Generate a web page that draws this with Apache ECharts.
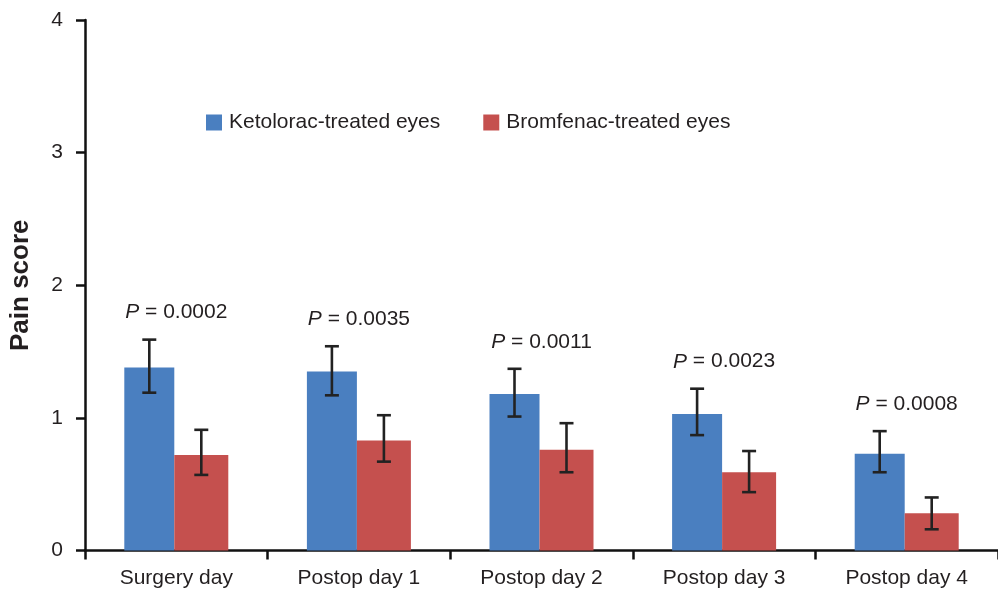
<!DOCTYPE html>
<html>
<head>
<meta charset="utf-8">
<script src="https://cdn.jsdelivr.net/npm/echarts@6/dist/echarts.min.js"></script>
<style>
html,body{margin:0;padding:0;background:#fff;}
#chart{width:998px;height:591px;}
</style>
</head>
<body>
<div id="chart"></div>
<script>
const categories = ['Surgery day', 'Postop day 1', 'Postop day 2', 'Postop day 3', 'Postop day 4'];
const seriesNames = ['Ketolorac-treated eyes', 'Bromfenac-treated eyes'];
const ketoMean = [1.38, 1.35, 1.18, 1.03, 0.73];
const ketoLow  = [1.19, 1.17, 1.01, 0.87, 0.59];
const ketoHigh = [1.59, 1.54, 1.37, 1.22, 0.90];
const bromMean = [0.72, 0.83, 0.76, 0.59, 0.28];
const bromLow  = [0.57, 0.67, 0.59, 0.44, 0.16];
const bromHigh = [0.91, 1.02, 0.96, 0.75, 0.40];
const pValues  = ['0.0002', '0.0035', '0.0011', '0.0023', '0.0008'];
const yTicks   = [0, 1, 2, 3, 4];

const BLUE = '#4a7fc0', RED = '#c5504e', INK = '#231f20';
const FONT = '"Liberation Sans", Arial, sans-serif';
const BW_K = 50, BW_B = 54;
const offK = -(BW_K + BW_B) / 2 + BW_K / 2;
const offB = -(BW_K + BW_B) / 2 + BW_K + BW_B / 2;

function errRender(off) {
  return function (params, api) {
    const top = api.coord([api.value(0), api.value(2)]);
    const bot = api.coord([api.value(0), api.value(1)]);
    const x = top[0] + off;
    const cap = 7;
    const st = { stroke: '#222', lineWidth: 2.6 };
    return {
      type: 'group',
      children: [
        { type: 'line', shape: { x1: x, y1: top[1], x2: x, y2: bot[1] }, style: st },
        { type: 'line', shape: { x1: x - cap, y1: top[1], x2: x + cap, y2: top[1] }, style: st },
        { type: 'line', shape: { x1: x - cap, y1: bot[1], x2: x + cap, y2: bot[1] }, style: st }
      ]
    };
  };
}

const chart = echarts.init(document.getElementById('chart'), null, { renderer: 'canvas' });
chart.setOption({
  animation: false,
  backgroundColor: '#fff',
  textStyle: { fontFamily: FONT },
  grid: { left: 84, right: -7, top: 20, bottom: 40.5, containLabel: false },
  legend: {
    data: seriesNames,
    left: 206, top: 112, padding: 0,
    itemWidth: 16, itemHeight: 16, itemGap: 43,
    icon: 'rect',
    textStyle: { fontSize: 21, color: INK, fontFamily: FONT, padding: [0, 0, 0, 2] }
  },
  xAxis: {
    type: 'category',
    data: categories,
    axisLine: { lineStyle: { color: '#111', width: 2.5 } },
    axisTick: { show: true, length: 9, lineStyle: { color: '#111', width: 2.5 } },
    axisLabel: { fontSize: 21, color: INK, margin: 17, fontFamily: FONT }
  },
  yAxis: {
    type: 'value',
    min: 0, max: 4, interval: 1,
    name: 'Pain score',
    nameLocation: 'middle',
    nameGap: 51,
    nameTextStyle: { fontSize: 26, fontWeight: 'bold', color: INK, fontFamily: FONT },
    axisLine: { show: true, lineStyle: { color: '#111', width: 2.5 } },
    axisTick: { show: true, length: 9, lineStyle: { color: '#111', width: 2.5 } },
    axisLabel: { fontSize: 21, color: INK, margin: 22, fontFamily: FONT,
      formatter: v => (yTicks.indexOf(v) >= 0 ? String(v) : '') },
    splitLine: { show: false }
  },
  series: [
    { name: seriesNames[0], type: 'bar', data: ketoMean, barWidth: BW_K, barGap: '0%',
      itemStyle: { color: BLUE } },
    { name: seriesNames[1], type: 'bar', data: bromMean, barWidth: BW_B, barGap: '0%',
      itemStyle: { color: RED } },
    { type: 'custom', name: 'errK', renderItem: errRender(offK), z: 5,
      data: categories.map((c, i) => [i, ketoLow[i], ketoHigh[i]]) },
    { type: 'custom', name: 'errB', renderItem: errRender(offB), z: 5,
      data: categories.map((c, i) => [i, bromLow[i], bromHigh[i]]) },
    { type: 'custom', name: 'pLabels', z: 6,
      data: categories.map((c, i) => [i, ketoHigh[i], pValues[i]]),
      renderItem: function (params, api) {
        const p = api.coord([api.value(0), api.value(1)]);
        return {
          type: 'text',
          x: p[0], y: p[1] - 27,
          style: {
            text: '{i|P} = ' + pValues[params.dataIndex],
            fontSize: 21, fill: INK, fontFamily: FONT,
            align: 'center', verticalAlign: 'middle',
            rich: { i: { fontStyle: 'italic', fontSize: 21, fontFamily: FONT, fill: INK } }
          }
        };
      } }
  ]
});
</script>
</body>
</html>
